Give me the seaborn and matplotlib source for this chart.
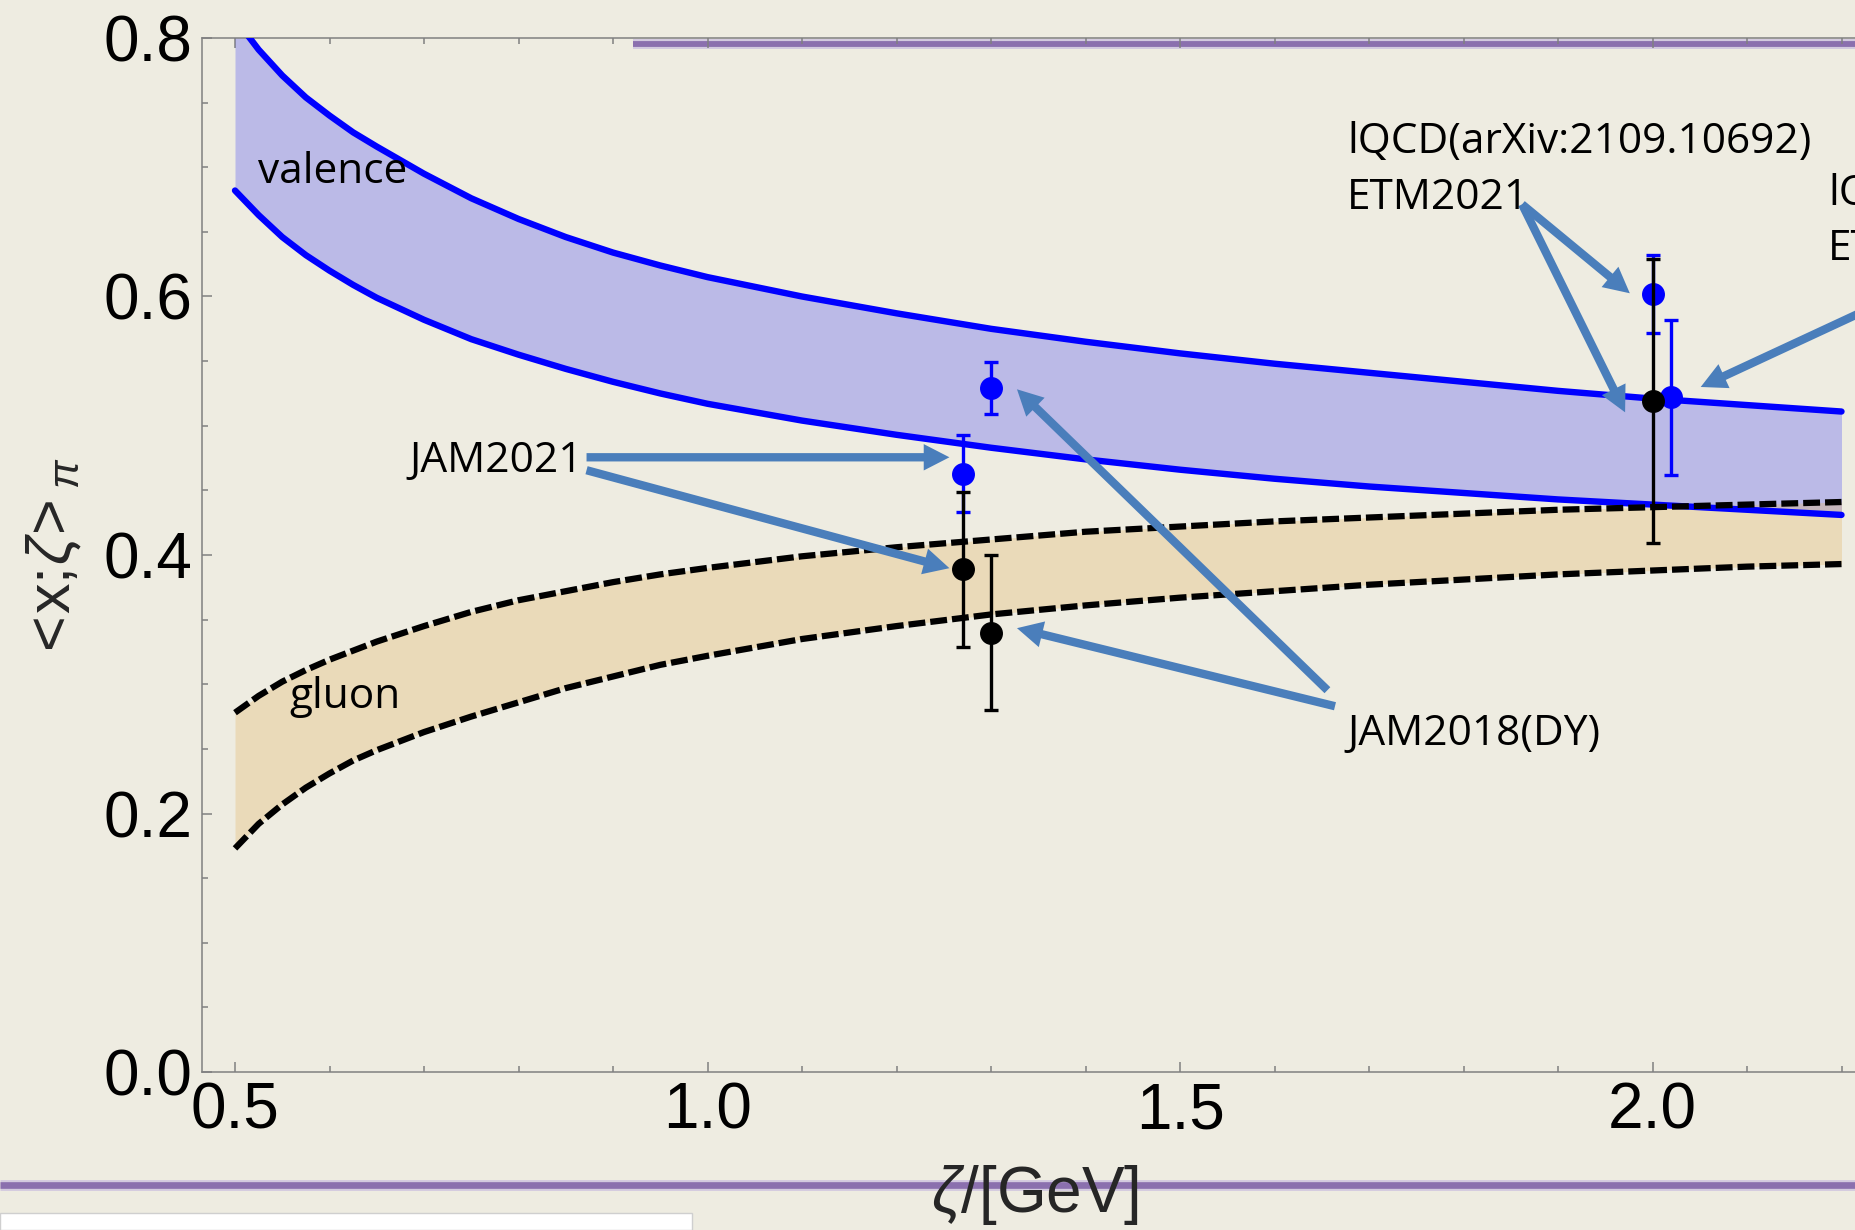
import numpy as np
import pandas as pd
import matplotlib
matplotlib.use("Agg")
import matplotlib.pyplot as plt
import seaborn as sns
from matplotlib.lines import Line2D
from matplotlib.patches import Rectangle, ArrowStyle
from matplotlib.ticker import MultipleLocator, FormatStrFormatter

# ---- band boundaries: momentum fraction vs. resolving scale zeta [GeV] ----
zeta = [0.500, 0.525, 0.550, 0.575, 0.600, 0.625, 0.650, 0.700, 0.750, 0.800,
        0.850, 0.900, 0.950, 1.000, 1.100, 1.200, 1.300, 1.400, 1.500, 1.600,
        1.700, 1.800, 1.900, 2.000, 2.100, 2.200]
valence_hi = [0.815, 0.791, 0.771, 0.754, 0.740, 0.727, 0.716, 0.695, 0.676,
              0.660, 0.646, 0.634, 0.624, 0.615, 0.600, 0.587, 0.575, 0.565,
              0.556, 0.548, 0.541, 0.534, 0.527, 0.521, 0.516, 0.511]
valence_lo = [0.682, 0.663, 0.646, 0.632, 0.620, 0.609, 0.599, 0.582, 0.567,
              0.555, 0.544, 0.534, 0.525, 0.517, 0.504, 0.493, 0.483, 0.474,
              0.466, 0.459, 0.453, 0.448, 0.443, 0.439, 0.435, 0.431]
gluon_hi = [0.278, 0.291, 0.302, 0.311, 0.319, 0.326, 0.333, 0.345, 0.356,
            0.365, 0.372, 0.379, 0.385, 0.390, 0.399, 0.406, 0.412, 0.418,
            0.422, 0.426, 0.429, 0.432, 0.435, 0.437, 0.439, 0.441]
gluon_lo = [0.173, 0.192, 0.207, 0.220, 0.231, 0.241, 0.249, 0.263, 0.275,
            0.286, 0.297, 0.306, 0.315, 0.322, 0.335, 0.345, 0.354, 0.361,
            0.367, 0.372, 0.377, 0.381, 0.385, 0.388, 0.391, 0.393]

# ---- global fits / lattice results ----
blue_zeta = [1.27, 1.30, 2.00, 2.02]
blue_val = [0.463, 0.529, 0.602, 0.522]
blue_err = [0.030, 0.020, 0.030, 0.060]
black_zeta = [1.27, 1.30, 2.00]
black_val = [0.389, 0.340, 0.519]
black_err = [0.060, 0.060, 0.110]

# ---- labels and their pointer arrows (tail -> head, data units) ----
labels = ["valence", "gluon", "JAM2021", "JAM2018(DY)",
          "lQCD(arXiv:2109.10692)", "ETM2021", "lQCD", "ETM"]
label_x = [0.524, 0.558, 0.685, 1.677, 1.677, 1.677, 2.186, 2.186]
label_y = [0.688, 0.2815, 0.464, 0.253, 0.711, 0.668, 0.6705, 0.628]

arrow_tail_x = [0.872, 0.872, 1.656, 1.664, 1.862, 1.862, 2.26]
arrow_tail_y = [0.4756, 0.4656, 0.2954, 0.283, 0.6713, 0.6713, 0.601]
arrow_head_x = [1.256, 1.256, 1.3275, 1.3275, 1.976, 1.971, 2.051]
arrow_head_y = [0.4756, 0.3898, 0.5282, 0.3434, 0.6025, 0.5104, 0.530]

# ---------------------------------------------------------------------------
sns.set_theme(style="ticks")
plt.rcParams["font.family"] = ["Liberation Sans", "DejaVu Sans"]
plt.rcParams["mathtext.fontset"] = "custom"
plt.rcParams["mathtext.rm"] = "Liberation Sans"
plt.rcParams["mathtext.it"] = "Liberation Sans:italic"
plt.rcParams["mathtext.bf"] = "Liberation Sans:bold"

BG = "#EEECE1"
W, H = 1856, 1230
fig = plt.figure(figsize=(W / 100, H / 100), dpi=100, facecolor=BG)
ax = fig.add_axes([202 / W, (H - 1072) / H, (1868 - 202) / W, (1072 - 38) / H])
ax.set_facecolor("none")

# shaded bands
ax.fill_between(zeta, valence_lo, valence_hi, color="#0000FF", alpha=0.21,
                lw=0, zorder=1)
ax.fill_between(zeta, gluon_lo, gluon_hi, color="#E1B35F", alpha=0.30,
                lw=0, zorder=1.1)

# band boundaries
n = len(zeta)
curves = pd.DataFrame({
    "zeta": zeta * 4,
    "value": valence_hi + valence_lo + gluon_hi + gluon_lo,
    "curve": (["valence_hi"] * n + ["valence_lo"] * n
              + ["gluon_hi"] * n + ["gluon_lo"] * n),
})
for name in ["valence_hi", "valence_lo"]:
    sns.lineplot(data=curves[curves.curve == name], x="zeta", y="value",
                 estimator=None, sort=False, color="#0000FF", lw=4.6, ax=ax,
                 zorder=3, legend=False)
for name in ["gluon_hi", "gluon_lo"]:
    sns.lineplot(data=curves[curves.curve == name], x="zeta", y="value",
                 estimator=None, sort=False, color="black", lw=4.5, ax=ax,
                 zorder=3.5, legend=False)
for ln in ax.lines[-2:]:
    ln.set_dashes((2.7, 0.8))
    ln.set_dash_capstyle("butt")

# data points with error bars
ax.errorbar(blue_zeta, blue_val, yerr=blue_err, fmt="o", color="#0000FF",
            ms=15.5, elinewidth=2.4, capsize=4.7, capthick=2.4, zorder=5)
ax.errorbar(black_zeta, black_val, yerr=black_err, fmt="o", color="black",
            ms=15.5, elinewidth=2.4, capsize=4.7, capthick=2.4, zorder=5.5)

# pointer arrows
astyle = ArrowStyle("Simple", head_length=1.85, head_width=1.9, tail_width=0.6)
for tx, ty, hx, hy in zip(arrow_tail_x, arrow_tail_y, arrow_head_x, arrow_head_y):
    ax.annotate("", xy=(hx, hy), xytext=(tx, ty), xycoords="data",
                textcoords="data", annotation_clip=False,
                arrowprops=dict(arrowstyle=astyle, mutation_scale=10,
                                color="#4A7EBB", lw=0, shrinkA=0, shrinkB=0),
                zorder=6)

for txt, tx, ty in zip(labels, label_x, label_y):
    ax.text(tx, ty, txt, family=["Open Sans", "DejaVu Sans"], fontsize=30.5,
            ha="left", va="baseline", color="black", zorder=7)

# axes styling
ax.set_xlim(0.5 - 33 / 945, 0.5 + (1868 - 235) / 945)
ax.set_ylim(0.0, 0.8)
ax.xaxis.set_major_locator(MultipleLocator(0.5))
ax.xaxis.set_minor_locator(MultipleLocator(0.1))
ax.yaxis.set_major_locator(MultipleLocator(0.2))
ax.yaxis.set_minor_locator(MultipleLocator(0.05))
ax.xaxis.set_major_formatter(FormatStrFormatter("%.1f"))
ax.yaxis.set_major_formatter(FormatStrFormatter("%.1f"))

GRAY = "#808080"
for side in ["left", "bottom", "top"]:
    ax.spines[side].set_color(GRAY)
    ax.spines[side].set_linewidth(1.1)
ax.spines["right"].set_visible(False)
ax.tick_params(axis="both", which="both", direction="in", color=GRAY,
               width=1.1, top=True, right=False, labelsize=46, pad=7,
               labelcolor="black")
ax.tick_params(which="major", length=7.5)
ax.tick_params(which="minor", length=4.5)

ax.set_xlabel(r"$\zeta\mathrm{/[GeV]}$", fontsize=46, va="center")
ax.xaxis.set_label_coords(0.5, (1072 - 1195) / (1072 - 38))
ax.set_ylabel(r"$\!<\!\mathrm{x};\!\zeta\!>_{\pi}$", fontsize=44,
              va="center", ha="center")
ax.yaxis.set_label_coords((54 - 202) / (1868 - 202), 0.5)

# slide decorations: purple rules and a white box
for (x0, x1, y, core) in [(633 / W, 1.0, 1 - 44 / H, 4.2),
                          (0.0, 1.0, 1 - 1185 / H, 4.8)]:
    ax.add_line(Line2D([x0, x1], [y, y], transform=fig.transFigure,
                       color="#D3CADF", lw=core + 3.0, clip_on=False,
                       zorder=0.2, solid_capstyle="butt"))
    ax.add_line(Line2D([x0, x1], [y, y], transform=fig.transFigure,
                       color="#8B70AE", lw=core, clip_on=False, zorder=0.3,
                       solid_capstyle="butt"))
fig.add_artist(Rectangle((0, 0), 692 / W, (H - 1213) / H,
                         transform=fig.transFigure, facecolor="white",
                         edgecolor="#CFCFCF", lw=1.0, zorder=10))

fig.savefig("out.png", dpi=100, facecolor=BG)
